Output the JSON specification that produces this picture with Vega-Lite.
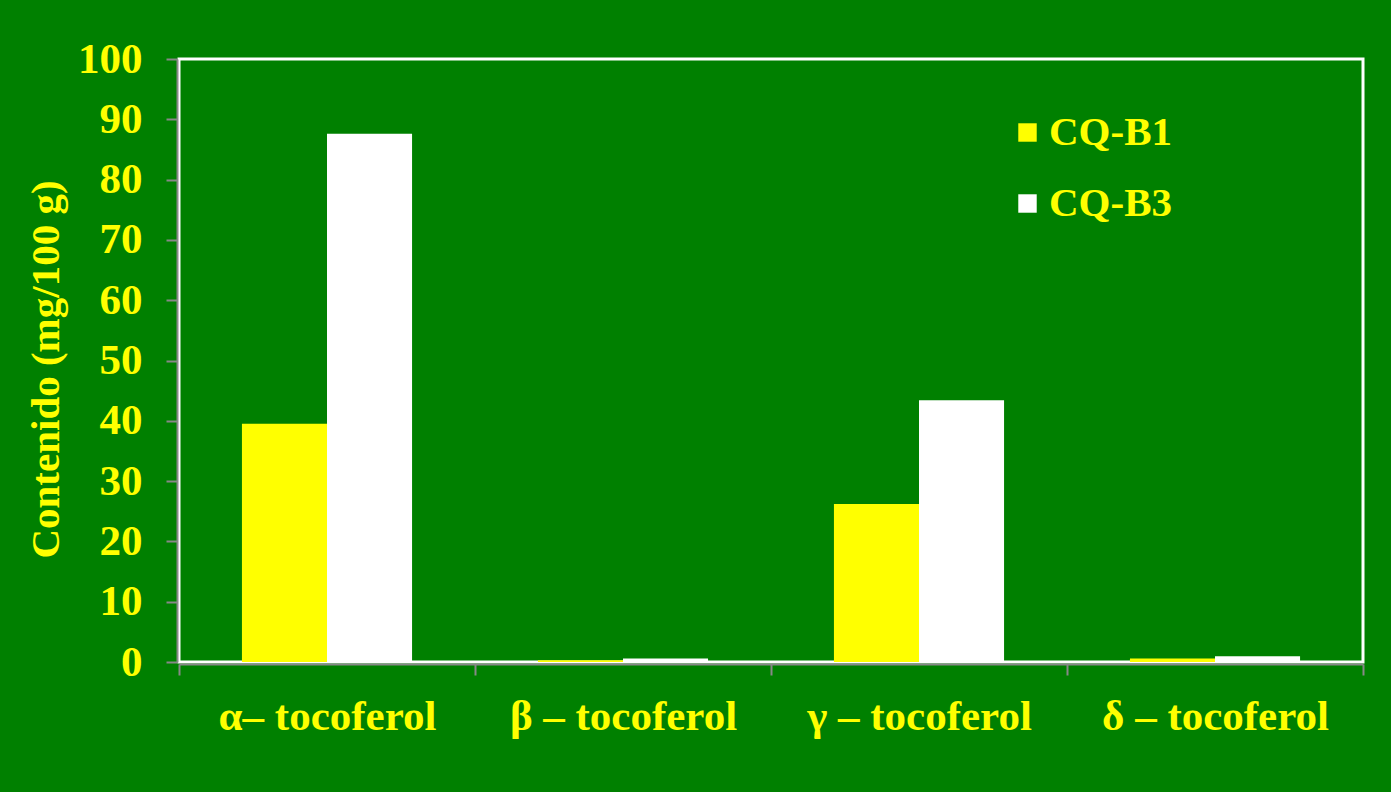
{
  "$schema": "https://vega.github.io/schema/vega-lite/v6.json",
  "autosize": "none",
  "width": 1184,
  "height": 603,
  "padding": {"left": 179, "top": 59, "right": 28, "bottom": 130},
  "background": "#008000",
  "data": {
    "values": [
      {"tocoferol": "α– tocoferol", "muestra": "CQ-B1", "contenido": 39.5},
      {"tocoferol": "α– tocoferol", "muestra": "CQ-B3", "contenido": 87.6},
      {"tocoferol": "β – tocoferol", "muestra": "CQ-B1", "contenido": 0.3},
      {"tocoferol": "β – tocoferol", "muestra": "CQ-B3", "contenido": 0.6},
      {"tocoferol": "γ – tocoferol", "muestra": "CQ-B1", "contenido": 26.2},
      {"tocoferol": "γ – tocoferol", "muestra": "CQ-B3", "contenido": 43.4},
      {"tocoferol": "δ – tocoferol", "muestra": "CQ-B1", "contenido": 0.6},
      {"tocoferol": "δ – tocoferol", "muestra": "CQ-B3", "contenido": 0.95}
    ]
  },
  "mark": {"type": "bar"},
  "encoding": {
    "x": {
      "field": "tocoferol",
      "type": "nominal",
      "sort": null,
      "scale": {"paddingInner": 0, "paddingOuter": 0},
      "axis": {
        "title": null,
        "labelAngle": 0,
        "labelLimit": 0,
        "tickBand": "extent",
        "labelPadding": 20,
        "tickSize": 11,
        "offset": 2
      }
    },
    "xOffset": {
      "field": "muestra",
      "type": "nominal",
      "scale": {"paddingInner": 0, "paddingOuter": 0.74}
    },
    "y": {
      "field": "contenido",
      "type": "quantitative",
      "scale": {"domain": [0, 100], "nice": false},
      "axis": {
        "title": "Contenido (mg/100 g)",
        "values": [0, 10, 20, 30, 40, 50, 60, 70, 80, 90, 100],
        "grid": false,
        "tickSize": 11,
        "labelPadding": 24,
        "titlePadding": 10,
        "titleY": 310,
        "offset": 2
      }
    },
    "color": {
      "field": "muestra",
      "type": "nominal",
      "scale": {"domain": ["CQ-B1", "CQ-B3"], "range": ["#ffff00", "#ffffff"]},
      "legend": {
        "title": null,
        "orient": "none",
        "legendX": 828,
        "legendY": 53,
        "symbolType": "square",
        "symbolSize": 340,
        "symbolStrokeWidth": 0,
        "symbolOpacity": 1,
        "labelFontSize": 41,
        "labelOffset": 1,
        "rowPadding": 29
      }
    }
  },
  "config": {
    "font": "Liberation Serif",
    "view": {"stroke": "#ffffff", "strokeWidth": 3},
    "axis": {
      "labelFont": "Liberation Serif",
      "labelFontWeight": "bold",
      "labelFontSize": 43,
      "labelColor": "#ffff00",
      "titleFont": "Liberation Serif",
      "titleFontWeight": "bold",
      "titleFontSize": 41,
      "titleColor": "#ffff00",
      "domainColor": "#888888",
      "domainWidth": 2,
      "tickColor": "#888888",
      "tickWidth": 2
    },
    "legend": {
      "labelFont": "Liberation Serif",
      "labelFontWeight": "bold",
      "labelColor": "#ffff00"
    }
  }
}
